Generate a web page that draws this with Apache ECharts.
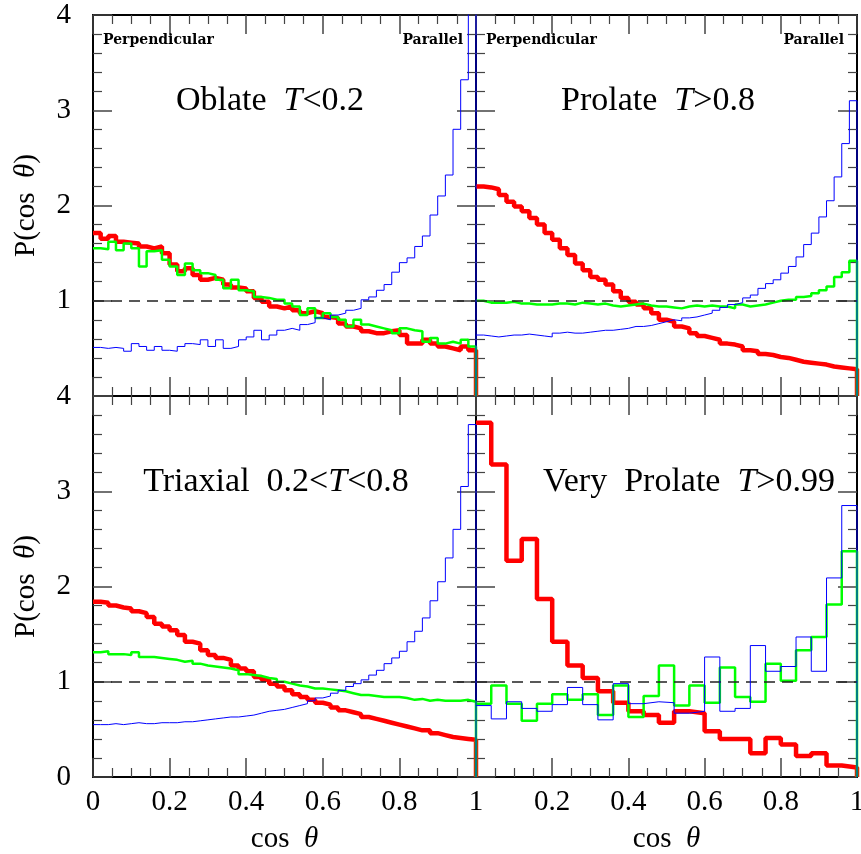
<!DOCTYPE html>
<html>
<head>
<meta charset="utf-8">
<script src="https://cdn.jsdelivr.net/npm/echarts@6/dist/echarts.min.js"></script>
<style>
  html, body { margin: 0; padding: 0; background: #fff; }
  #chart { width: 861px; height: 854px; }
</style>
</head>
<body>
<div id="chart"></div>
<script>
// histogram heights, one value per bin, bins span 0..1 evenly
const oblateRed = [
  1.71, 1.65, 1.68, 1.62, 1.61, 1.60, 1.57, 1.55, 1.57, 1.50,
  1.38, 1.31, 1.34, 1.27, 1.22, 1.24, 1.22, 1.17, 1.14, 1.13,
  1.10, 1.03, 0.99, 0.94, 0.92, 0.94, 0.90, 0.87, 0.89, 0.87,
  0.83, 0.82, 0.76, 0.73, 0.71, 0.68, 0.66, 0.66, 0.68, 0.69,
  0.64, 0.55, 0.55, 0.59, 0.55, 0.52, 0.50, 0.48, 0.52, 0.48
];
const oblateGreen = [
  1.55, 1.54, 1.62, 1.53, 1.60, 1.55, 1.36, 1.52, 1.53, 1.43,
  1.36, 1.27, 1.39, 1.32, 1.29, 1.27, 1.22, 1.13, 1.22, 1.11,
  1.10, 1.04, 1.03, 1.01, 1.01, 0.97, 0.94, 0.85, 0.92, 0.82,
  0.87, 0.83, 0.80, 0.73, 0.80, 0.75, 0.73, 0.71, 0.69, 0.66,
  0.71, 0.69, 0.68, 0.57, 0.61, 0.55, 0.57, 0.55, 0.59, 0.52
];
const oblateBlue = [
  0.51, 0.50, 0.51, 0.50, 0.47, 0.55, 0.52, 0.48, 0.52, 0.48,
  0.47, 0.52, 0.55, 0.54, 0.59, 0.52, 0.59, 0.50, 0.52, 0.59,
  0.62, 0.69, 0.59, 0.64, 0.69, 0.71, 0.69, 0.75, 0.77, 0.82,
  0.80, 0.85, 0.87, 0.90, 0.92, 1.01, 1.04, 1.11, 1.17, 1.30,
  1.40, 1.45, 1.57, 1.68, 1.90, 2.10, 2.32, 2.80, 3.32, 4.60
];

const prolateRed = [
  2.20, 2.19, 2.17, 2.11, 2.04, 1.99, 1.94, 1.87, 1.80, 1.71,
  1.64, 1.55, 1.48, 1.39, 1.32, 1.25, 1.22, 1.17, 1.10, 1.03,
  0.99, 0.96, 0.92, 0.87, 0.80, 0.78, 0.73, 0.71, 0.66, 0.63,
  0.61, 0.59, 0.55, 0.54, 0.52, 0.48, 0.47, 0.44, 0.43, 0.41,
  0.40, 0.38, 0.36, 0.35, 0.34, 0.33, 0.31, 0.30, 0.29, 0.28
];
const prolateGreen = [
  1.00, 0.98, 0.98, 0.98, 0.99, 0.97, 0.97, 0.96, 0.96, 0.96,
  0.97, 0.97, 0.96, 0.98, 0.97, 0.96, 0.97, 0.95, 0.94, 0.95,
  0.96, 0.97, 0.95, 0.94, 0.94, 0.93, 0.92, 0.94, 0.95, 0.94,
  0.95, 0.94, 0.94, 0.92, 0.96, 0.94, 0.95, 0.96, 0.98, 1.00,
  1.01, 1.01, 1.04, 1.05, 1.08, 1.11, 1.15, 1.25, 1.30, 1.42
];
const prolateBlue = [
  0.64, 0.63, 0.62, 0.63, 0.64, 0.64, 0.65, 0.64, 0.63, 0.62,
  0.66, 0.67, 0.66, 0.66, 0.67, 0.68, 0.69, 0.69, 0.70, 0.71,
  0.73, 0.73, 0.74, 0.76, 0.78, 0.80, 0.79, 0.82, 0.83, 0.85,
  0.87, 0.90, 0.93, 0.96, 0.98, 1.03, 1.06, 1.13, 1.18, 1.22,
  1.29, 1.36, 1.46, 1.59, 1.71, 1.88, 2.05, 2.30, 2.65, 3.10
];

const triaxRed = [
  1.84, 1.83, 1.80, 1.78, 1.77, 1.74, 1.72, 1.68, 1.61, 1.58,
  1.54, 1.49, 1.42, 1.40, 1.33, 1.28, 1.25, 1.23, 1.17, 1.14,
  1.11, 1.05, 1.02, 0.98, 0.95, 0.91, 0.87, 0.84, 0.81, 0.78,
  0.76, 0.73, 0.70, 0.68, 0.66, 0.63, 0.61, 0.59, 0.57, 0.55,
  0.53, 0.51, 0.49, 0.49, 0.46, 0.44, 0.42, 0.41, 0.40, 0.39
];
const triaxGreen = [
  1.31, 1.32, 1.29, 1.29, 1.28, 1.31, 1.26, 1.26, 1.25, 1.24,
  1.23, 1.21, 1.22, 1.19, 1.17, 1.16, 1.15, 1.14, 1.12, 1.08,
  1.07, 1.06, 1.04, 1.03, 1.00, 0.98, 0.96, 0.95, 0.93, 0.93,
  0.92, 0.91, 0.90, 0.88, 0.86, 0.86, 0.85, 0.84, 0.84, 0.84,
  0.83, 0.81, 0.82, 0.80, 0.81, 0.80, 0.80, 0.80, 0.81, 0.79
];
const triaxBlue = [
  0.55, 0.55, 0.56, 0.55, 0.56, 0.57, 0.56, 0.56, 0.57, 0.57,
  0.57, 0.58, 0.58, 0.59, 0.60, 0.61, 0.62, 0.63, 0.63, 0.64,
  0.65, 0.67, 0.69, 0.70, 0.71, 0.73, 0.75, 0.77, 0.80, 0.83,
  0.85, 0.88, 0.91, 0.95, 0.98, 1.02, 1.07, 1.12, 1.19, 1.25,
  1.32, 1.42, 1.53, 1.67, 1.85, 2.05, 2.30, 2.60, 3.05, 3.70
];

const vproRed = [
  3.72, 3.28, 2.27, 2.50, 1.87, 1.42, 1.17, 1.04, 0.90, 0.78,
  0.69, 0.65, 0.57, 0.69, 0.67, 0.48, 0.40, 0.40, 0.25, 0.41,
  0.34, 0.22, 0.25, 0.12, 0.10
];
const vproGreen = [
  0.77, 0.96, 0.77, 0.59, 0.77, 0.87, 0.81, 0.87, 0.65, 0.96,
  0.63, 0.85, 1.17, 0.75, 0.96, 0.78, 1.15, 0.84, 0.79, 1.19,
  1.01, 1.33, 1.47, 1.81, 2.37
];
const vproBlue = [
  0.75, 0.61, 0.79, 0.72, 0.69, 0.76, 0.94, 0.76, 0.60, 0.98,
  0.77, 0.79, 0.78, 0.67, 0.69, 1.26, 0.69, 0.72, 1.38, 1.11,
  1.16, 1.47, 1.11, 2.09, 2.85
];

const xTicks = [0, 0.2, 0.4, 0.6, 0.8, 1];
const yTicks = [0, 1, 2, 3, 4];

const serif = 'Liberation Serif';
const tickColor = '#444';

const panels = [
  { title: 'Oblate  {i|T}<0.2', tx: 270, ty: 101, grid: { left: 93, top: 15, width: 383, height: 381 },
    red: oblateRed, green: oblateGreen, blue: oblateBlue, row: 0, col: 0 },
  { title: 'Prolate  {i|T}>0.8', tx: 658, ty: 101, grid: { left: 476, top: 15, width: 381, height: 381 },
    red: prolateRed, green: prolateGreen, blue: prolateBlue, row: 0, col: 1 },
  { title: 'Triaxial  0.2<{i|T}<0.8', tx: 276, ty: 482, grid: { left: 93, top: 396, width: 383, height: 381 },
    red: triaxRed, green: triaxGreen, blue: triaxBlue, row: 1, col: 0 },
  { title: 'Very  Prolate  {i|T}>0.99', tx: 689, ty: 482, grid: { left: 476, top: 396, width: 381, height: 381 },
    red: vproRed, green: vproGreen, blue: vproBlue, row: 1, col: 1 }
];

// turn bin heights into step points: left edge of each bin, then close at 1 and drop to 0
function histo(vals) {
  const w = 1 / vals.length;
  const pts = vals.map((v, i) => [i * w, v]);
  pts.push([1, vals[vals.length - 1]]);
  pts.push([1, 0]);
  return pts;
}

const nameRich = { i: { fontStyle: 'italic', fontFamily: serif, fontSize: 29, color: '#000' } };

const grids = [], xAxes = [], yAxes = [], series = [], graphics = [];

panels.forEach((p, k) => {
  grids.push(Object.assign({ containLabel: false, outerBoundsMode: 'none' }, p.grid));

  const showX = p.row === 1;
  const showY = p.col === 0;

  ['bottom', 'top'].forEach((pos) => {
    const main = pos === 'bottom';
    xAxes.push({
      type: 'value', gridIndex: k, position: pos, min: xTicks[0], max: xTicks[xTicks.length - 1],
      interval: xTicks[1] - xTicks[0],
      axisLine: { show: true, onZero: false, lineStyle: { color: '#000', width: 2 } },
      axisTick: { show: true, inside: true, length: 19, lineStyle: { color: tickColor, width: 1.5 } },
      minorTick: { show: true, splitNumber: 4, length: 9, lineStyle: { color: tickColor, width: 1.2 } },
      splitLine: { show: false },
      axisLabel: {
        show: main && showX, showMinLabel: p.col === 0, margin: 11,
        fontFamily: serif, fontSize: 29, color: '#000'
      },
      name: main && showX ? 'cos  {i|θ}' : '',
      nameLocation: 'middle', nameGap: 48,
      nameTextStyle: { fontFamily: serif, fontSize: 29, color: '#000', rich: nameRich }
    });
  });

  ['left', 'right'].forEach((pos) => {
    const main = pos === 'left';
    yAxes.push({
      type: 'value', gridIndex: k, position: pos, min: yTicks[0], max: yTicks[yTicks.length - 1],
      interval: yTicks[1] - yTicks[0],
      axisLine: { show: true, onZero: false, lineStyle: { color: '#000', width: 2 } },
      axisTick: { show: true, inside: true, length: 19, lineStyle: { color: tickColor, width: 1.5 } },
      minorTick: { show: true, splitNumber: 5, length: 9, lineStyle: { color: tickColor, width: 1.2 } },
      splitLine: { show: false },
      axisLabel: {
        show: main && showY, showMinLabel: p.row === 1, margin: 22,
        fontFamily: serif, fontSize: 29, color: '#000'
      },
      name: main && showY ? 'P(cos  {i|θ})' : '',
      nameLocation: 'middle', nameGap: 52, nameRotate: 90,
      nameTextStyle: { fontFamily: serif, fontSize: 29, color: '#000', rich: nameRich }
    });
  });

  const common = { type: 'line', xAxisIndex: 2 * k, yAxisIndex: 2 * k, step: 'end',
                   symbol: 'none', clip: true, silent: true };
  series.push(Object.assign({}, common, {
    name: 'red', data: histo(p.red), z: 3,
    lineStyle: { color: '#ff0000', width: 4.5 },
    markLine: {
      silent: true, symbol: ['none', 'none'], label: { show: false },
      lineStyle: { color: '#222', type: [11, 7], width: 1.5 },
      data: [{ yAxis: 1 }]
    }
  }));
  series.push(Object.assign({}, common, {
    name: 'green', data: histo(p.green), z: 4,
    lineStyle: { color: '#00ff00', width: 2.5 }
  }));
  series.push(Object.assign({}, common, {
    name: 'blue', data: histo(p.blue), z: 5,
    lineStyle: { color: '#0000ff', width: 1 }
  }));

  graphics.push({
    type: 'text', x: p.tx, y: p.ty, z: 10,
    style: {
      text: p.title, fill: '#000', fontFamily: serif, fontSize: 34,
      align: 'center', verticalAlign: 'middle', textAlign: 'center', textVerticalAlign: 'middle',
      rich: { i: { fontStyle: 'italic', fontFamily: serif, fontSize: 34, fill: '#000' } }
    }
  });

  if (p.row === 0) {
    const left = p.grid.left;
    const right = p.grid.left + p.grid.width;
    graphics.push({
      type: 'text', x: left + 10, y: 40, z: 10,
      style: { text: 'Perpendicular', fill: '#000', fontFamily: 'DejaVu Serif', fontSize: 14, fontWeight: 'bold',
               align: 'left', verticalAlign: 'middle', textAlign: 'left', textVerticalAlign: 'middle' }
    });
    graphics.push({
      type: 'text', x: right - 13, y: 40, z: 10,
      style: { text: 'Parallel', fill: '#000', fontFamily: 'DejaVu Serif', fontSize: 14, fontWeight: 'bold',
               align: 'right', verticalAlign: 'middle', textAlign: 'right', textVerticalAlign: 'middle' }
    });
  }
});

const chart = echarts.init(document.getElementById('chart'), null, { renderer: 'canvas' });
chart.setOption({
  backgroundColor: '#fff',
  animation: false,
  grid: grids,
  xAxis: xAxes,
  yAxis: yAxes,
  series: series,
  graphic: graphics
});
</script>
</body>
</html>
